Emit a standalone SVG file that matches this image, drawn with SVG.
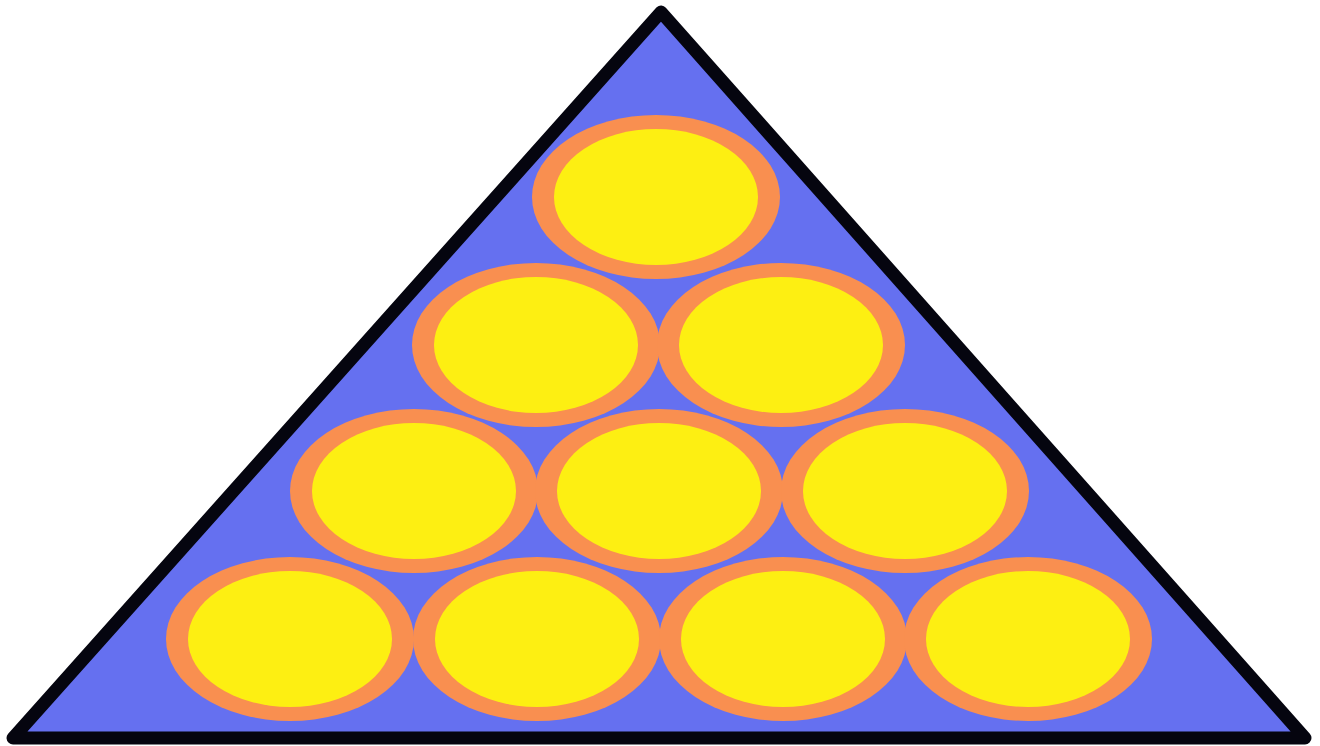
<svg xmlns="http://www.w3.org/2000/svg" width="1320" height="746" viewBox="0 0 1320 746">
<style>
.tri{fill:#6570f0;stroke:#05050f;stroke-width:13;stroke-linejoin:round}
.ring{fill:#f98f50}
.ball{fill:#fdef12}
</style>
<defs>
<g id="b">
<ellipse class="ring" cx="0" cy="0" rx="124" ry="82"/>
<ellipse class="ball" cx="0" cy="0" rx="102" ry="68"/>
</g>
</defs>
<rect width="1320" height="746" fill="#ffffff"/>
<g id="rack"><polygon class="tri" points="661,12 13,738 1305,738"/></g>
<g id="ball1"><use href="#b" x="656" y="197"/></g>
<g id="ball2"><use href="#b" x="536" y="345"/></g>
<g id="ball3"><use href="#b" x="781" y="345"/></g>
<g id="ball4"><use href="#b" x="414" y="491"/></g>
<g id="ball5"><use href="#b" x="659" y="491"/></g>
<g id="ball6"><use href="#b" x="905" y="491"/></g>
<g id="ball7"><use href="#b" x="290" y="639"/></g>
<g id="ball8"><use href="#b" x="537" y="639"/></g>
<g id="ball9"><use href="#b" x="783" y="639"/></g>
<g id="ball10"><use href="#b" x="1028" y="639"/></g>
<g id="connectors"/>
</svg>
